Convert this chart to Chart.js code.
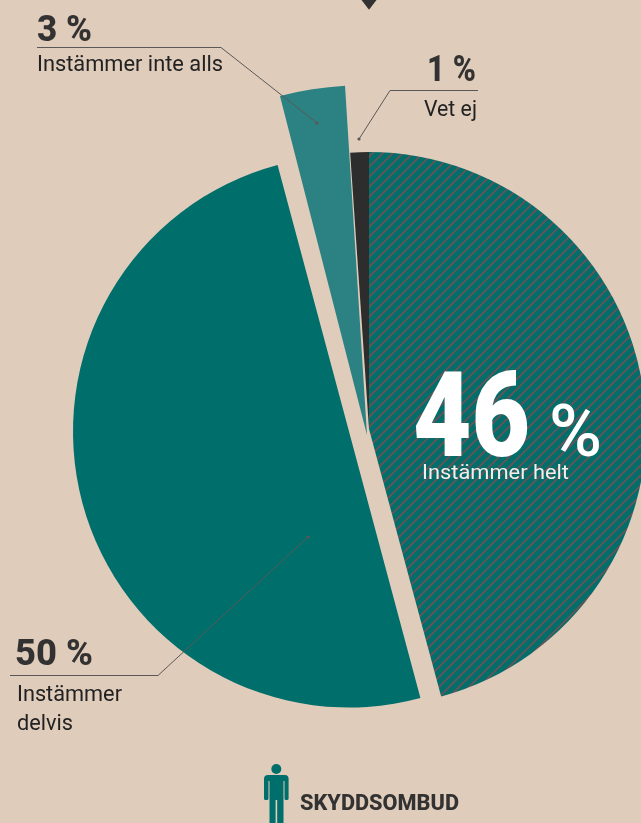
<!DOCTYPE html>
<html lang="sv">
<head>
<meta charset="utf-8">
<style>
html,body{margin:0;padding:0;background:#e0ccbb;width:641px;height:823px;overflow:hidden}
#wrap{position:relative;width:641px;height:823px}
canvas,svg{position:absolute;left:0;top:0}
text{font-family:Roboto,sans-serif}
</style>
<script src="https://cdn.jsdelivr.net/npm/chart.js@4"></script>
</head>
<body>
<div id="wrap">
<canvas id="c" width="641" height="823"></canvas>
<svg id="o" width="641" height="823" viewBox="0 0 641 823" xmlns="http://www.w3.org/2000/svg"></svg>
</div>
<script>
const categories = ['Instämmer helt', 'Instämmer delvis', 'Instämmer inte alls', 'Vet ej'];
const values = [46, 50, 3, 1];
const groupName = 'SKYDDSOMBUD';

const TEAL = '#006e6a', TEAL2 = '#2c8283', DARK = '#2e2d2d', INK = '#333232';

function hatch() {
  const n = 10, phase = 6, t = document.createElement('canvas');
  t.width = n; t.height = n;
  const g = t.getContext('2d');
  g.fillStyle = TEAL; g.fillRect(0, 0, n, n);
  g.strokeStyle = '#5f5659'; g.lineWidth = 2;
  for (const k of [-2 * n, -n, 0, n]) {
    g.beginPath(); g.moveTo(k + phase - 1, n + 1); g.lineTo(k + phase + n + 1, -1); g.stroke();
  }
  return g.createPattern(t, 'repeat');
}

// drawn geometry of each slice: centre, radius, small angle corrections (degrees)
const sliceGeometry = [
  {x: 369, y: 429, r: 277, a0: 0,    a1: -0.7},
  {x: 349, y: 431.5, r: 276, a0: -0.6, a1: -0.6},
  {x: 367, y: 435, r: 350, a0: 0,    a1: 0},
  {x: 369, y: 429, r: 277, a0: -0.3, a1: 0}
];

const explode = {
  id: 'explode',
  afterDatasetsUpdate(chart) {
    chart.getDatasetMeta(0).data.forEach((arc, i) => {
      const s = sliceGeometry[i];
      arc.x = s.x; arc.y = s.y; arc.outerRadius = s.r; arc.innerRadius = 0;
      arc.startAngle += s.a0 * Math.PI / 180;
      arc.endAngle += s.a1 * Math.PI / 180;
      arc.circumference = arc.endAngle - arc.startAngle;
    });
  }
};

new Chart(document.getElementById('c'), {
  type: 'pie',
  data: {
    labels: categories,
    datasets: [{
      data: values,
      backgroundColor: [hatch(), TEAL, TEAL2, DARK],
      borderWidth: 0,
      clip: false
    }]
  },
  options: {
    responsive: false,
    animation: false,
    events: [],
    plugins: {legend: {display: false}, tooltip: {enabled: false}}
  },
  plugins: [explode]
});

const svg = document.getElementById('o');
const NS = 'http://www.w3.org/2000/svg';
function el(name, attrs, txt) {
  const e = document.createElementNS(NS, name);
  for (const k in attrs) e.setAttribute(k, attrs[k]);
  if (txt) e.textContent = txt;
  svg.appendChild(e);
  return e;
}
function label(t, x, y, size, weight, fill, w) {
  el('text', {x, y, 'font-size': size, 'font-weight': weight, fill,
    textLength: w, lengthAdjust: 'spacingAndGlyphs'}, t);
}
function leader(points, dot) {
  el('polyline', {points: points.join(' '), fill: 'none', stroke: '#5a5857', 'stroke-width': 1});
  el('circle', {cx: dot[0], cy: dot[1], r: 1.6, fill: '#5a5857'});
}

// pointer at the top
el('path', {d: 'M361.5 0 L376.5 0 L369 9.7 Z', fill: INK});

// leaders
leader(['37,47.5', '221,47.5', '317,123'], [317, 123]);
leader(['478,90.5', '390,90.5', '359,139'], [359, 139]);
leader(['10,675.5', '158,675.5', '308,537'], [308, 537]);

// numbers and categories
label(values[2] + ' %', 37, 41, 37, 800, INK, 55);
label(categories[2], 37, 71, 22, 400, '#222', 186);
label(values[3] + ' %', 427, 81, 37, 800, INK, 49);
label(categories[3], 424, 116, 22, 400, '#222', 53);
label(values[1] + ' %', 15, 665, 37, 800, INK, 78);
label('Instämmer', 17, 701, 22, 400, '#222', 105);
label('delvis', 17, 730, 22, 400, '#222', 56);

label(String(values[0]), 413, 456, 118, 900, '#fff', 117);
label('%', 549, 456, 72, 500, '#fff', 53);
label(categories[0], 422, 479, 21, 400, '#f4eeea', 147);

// person icon and group name
el('circle', {cx: 276.3, cy: 769, r: 5, fill: TEAL});
el('path', {fill: TEAL, d: 'M268 775 H285 Q288.6 775 288.6 779 V798.5 Q288.6 800 287 800 H285.8 Q284.5 800 284.5 798.5 V781 H283.5 V823 H277.2 V800 H275.6 V823 H269.5 V781 H268.5 V798.5 Q268.5 800 267 800 H265.6 Q264 800 264 798.5 V779 Q264 775 268 775 Z'});
label(groupName, 300, 810, 22, 800, INK, 159);
</script>
</body>
</html>
